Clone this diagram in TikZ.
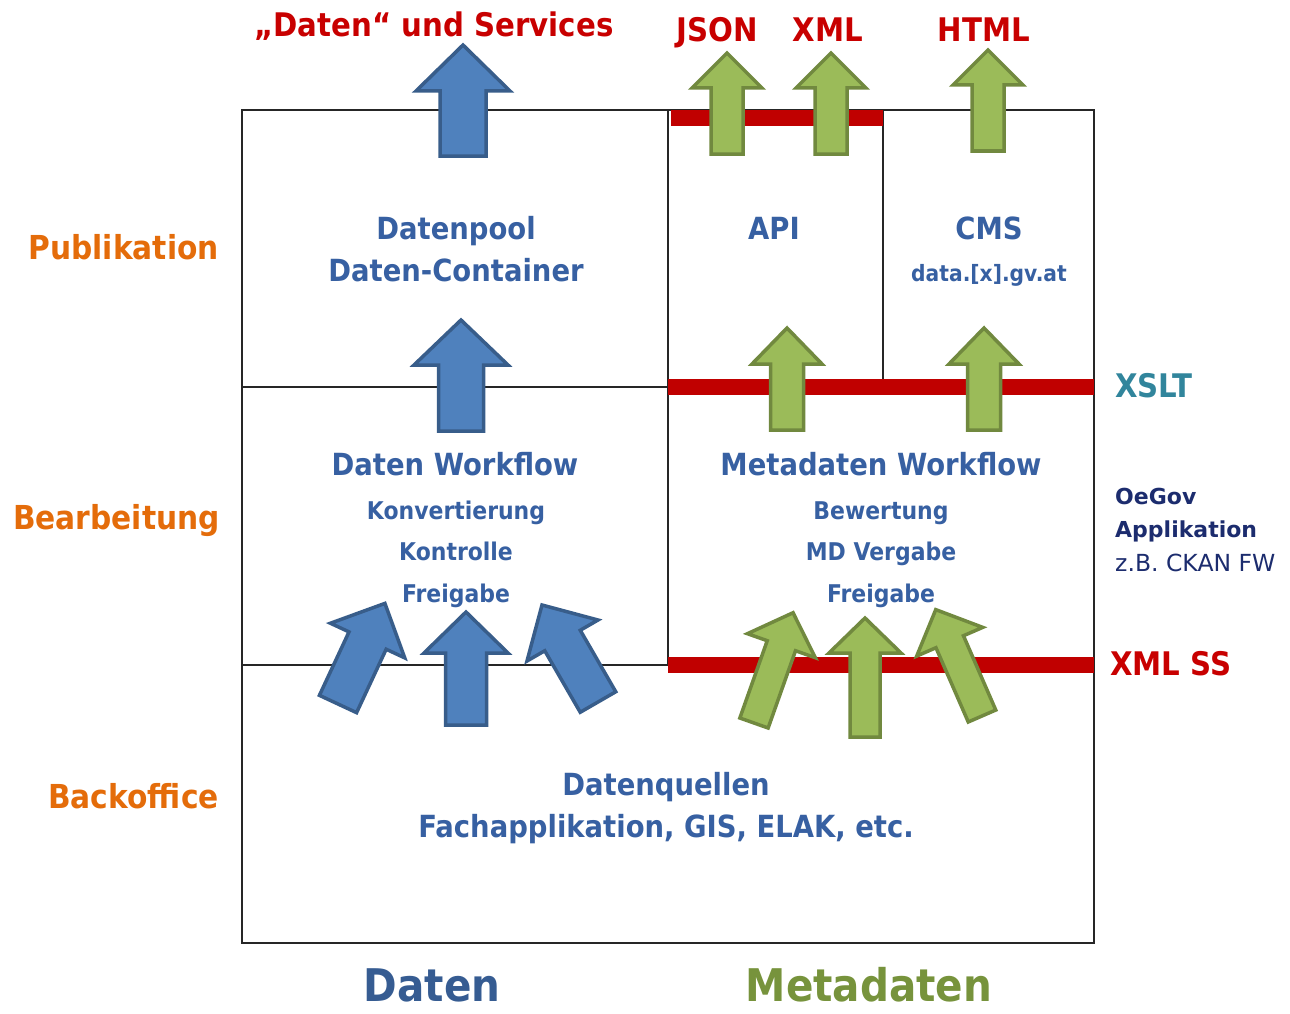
\documentclass[tikz,border=0pt]{standalone}
\usepackage{fontspec}
\setmainfont{DejaVu Sans}
\newfontfamily\tf{DejaVu Sans}[FakeStretch=0.9]
\definecolor{barred}{RGB}{192,0,0}
\definecolor{titlered}{RGB}{200,0,0}
\definecolor{lblorange}{RGB}{228,108,10}
\definecolor{boxblue}{RGB}{55,96,162}
\definecolor{darkblue}{RGB}{54,92,146}
\definecolor{metagreen}{RGB}{119,147,60}
\definecolor{xslt}{RGB}{49,133,156}
\definecolor{navy}{RGB}{28,44,110}
\definecolor{arrblue}{RGB}{79,129,189}
\definecolor{arrblueD}{RGB}{56,93,138}
\definecolor{arrgreen}{RGB}{155,187,89}
\definecolor{arrgreenD}{RGB}{113,137,63}
\newcommand\blockarrow[8]{%
  \begin{scope}[shift={(#2,#3)},rotate=#4]
    \draw[#1] (-#8,0) -- (-#8,{#7-#5}) -- (-#6,{#7-#5}) -- (0,-#5)
      -- (#6,{#7-#5}) -- (#8,{#7-#5}) -- (#8,0) -- cycle;
  \end{scope}}
\begin{document}
\begin{tikzpicture}[x=1pt,y=-1pt,
  frame/.style={draw=black!85,line width=1.4pt},
  redbar/.style={draw=barred,line width=16pt},
  bluearr/.style={fill=arrblue,draw=arrblueD,line width=3.5pt,line join=miter},
  greenarr/.style={fill=arrgreen,draw=arrgreenD,line width=3.5pt,line join=miter},
  txt/.style={inner sep=0pt,anchor=base},
  btitle/.style={txt,text=boxblue,font=\tf\bfseries\fontsize{30.5}{36}\selectfont},
  bsub/.style={txt,text=boxblue,font=\tf\bfseries\fontsize{24.4}{30}\selectfont},
  bsmall/.style={txt,text=boxblue,font=\tf\bfseries\fontsize{22.5}{28}\selectfont},
  side/.style={inner sep=0pt,anchor=base east,text=lblorange,font=\tf\bfseries\fontsize{33}{40}\selectfont},
  outlbl/.style={txt,text=titlered,font=\tf\bfseries\fontsize{32.5}{40}\selectfont},
  rlbl/.style={inner sep=0pt,anchor=base west,font=\tf\bfseries\fontsize{32.5}{40}\selectfont},
  navylbl/.style={inner sep=0pt,anchor=base west,text=navy,font=\bfseries\fontsize{22}{26}\selectfont},
  big/.style={txt,font=\tf\bfseries\fontsize{45}{54}\selectfont}]
\useasboundingbox (0,0) rectangle (1290,1014);
% frame
\draw[frame] (242,110) rectangle (1094,943);
\draw[frame] (668,110) -- (668,665);
\draw[frame] (242,387) -- (668,387);
\draw[frame] (242,665) -- (668,665);
\draw[frame] (883,110) -- (883,380);
% red interface bars
\draw[redbar] (671,118) -- (883,118);
\draw[redbar] (668,386.5) -- (1094,386.5);
\draw[redbar] (668,664.5) -- (1094,664.5);
% blue arrows
\blockarrow{bluearr}{463}{156}{0}{111}{47}{46}{23}
\blockarrow{bluearr}{461}{431}{0}{111}{47}{45}{22.5}
\blockarrow{bluearr}{466}{725}{0}{113}{42}{41}{20.5}
\blockarrow{bluearr}{338}{704}{-25}{111}{41}{41}{20.5}
\blockarrow{bluearr}{598}{702}{30}{112}{41}{41}{20.5}
% green arrows
\blockarrow{greenarr}{727}{154}{0}{101}{35}{35}{16}
\blockarrow{greenarr}{831}{154}{0}{101}{35}{35}{16}
\blockarrow{greenarr}{988}{151}{0}{101}{35}{35}{16}
\blockarrow{greenarr}{787}{430}{0}{102}{35}{36}{16.5}
\blockarrow{greenarr}{984}{430}{0}{102}{35}{36}{16.5}
\blockarrow{greenarr}{865}{737}{0}{119}{36}{35}{15}
\blockarrow{greenarr}{754}{723}{-19.5}{117}{36}{35}{15}
\blockarrow{greenarr}{982}{716}{23.5}{116}{36}{35}{15}
% box texts
\node[btitle] (dp) at (456,239) {Datenpool};
\node[btitle] (dc) at (456,281) {Daten-Container};
\node[btitle] (api) at (774,239) {API};
\node[btitle] (cms) at (989,239) {CMS};
\node[bsmall] (url) at (989,281) {data.[x].gv.at};
\node[btitle] (dw) at (455,475) {Daten Workflow};
\node[bsub] (dw1) at (456,519) {Konvertierung};
\node[bsub] (dw2) at (456,560) {Kontrolle};
\node[bsub] (dw3) at (456,602) {Freigabe};
\node[btitle] (mw) at (881,475) {Metadaten Workflow};
\node[bsub] (mw1) at (881,519) {Bewertung};
\node[bsub] (mw2) at (881,560) {MD Vergabe};
\node[bsub] (mw3) at (881,602) {Freigabe};
\node[btitle] (dq) at (666,795) {Datenquellen};
\node[btitle] (dq2) at (666,837) {Fachapplikation, GIS, ELAK, etc.};
% side labels
\node[side] (pub) at (219,259) {Publikation};
\node[side] (bea) at (220,529) {Bearbeitung};
\node[side] (bo) at (219,808) {Backoffice};
% outputs
\node[outlbl] (ds) at (434,37) {„Daten“ und Services};
\node[outlbl] (json) at (717,42) {JSON};
\node[outlbl] (xml) at (828,42) {XML};
\node[outlbl] (html) at (984,42) {HTML};
% right labels
\node[rlbl,text=xslt] (xsl) at (1115,397) {XSLT};
\node[rlbl,text=titlered] (xss) at (1110,675) {XML SS};
\node[navylbl] (oe1) at (1115,504) {OeGov};
\node[navylbl] (oe2) at (1115,537) {Applikation};
\node[inner sep=0pt,anchor=base west,text=navy,font=\fontsize{23.5}{28}\selectfont] (oe3) at (1115,571) {z.B. CKAN FW};
% column labels
\node[big,text=darkblue] (cd) at (432,1001) {Daten};
\node[big,text=metagreen] (cm) at (869,1001) {Metadaten};
\end{tikzpicture}
\end{document}
